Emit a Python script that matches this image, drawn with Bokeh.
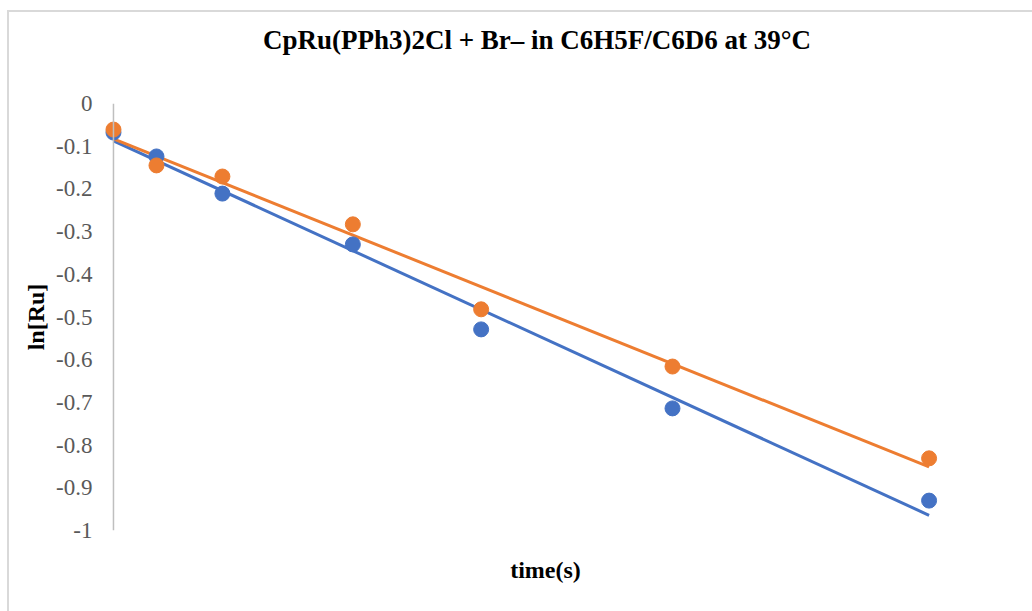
from bokeh.plotting import figure
from bokeh.models import Range1d, FixedTicker, Span, ColumnDataSource, Div
from bokeh.layouts import column
from bokeh.embed import file_html
from bokeh.resources import INLINE
import numpy as np

# ---- data ----
time_s = [0, 600, 1520, 3340, 5130, 7800, 11380]
ln_ru_blue = [-0.068, -0.124, -0.211, -0.330, -0.529, -0.714, -0.930]
ln_ru_orange = [-0.061, -0.145, -0.171, -0.283, -0.482, -0.616, -0.831]
y_ticks = [0, -0.1, -0.2, -0.3, -0.4, -0.5, -0.6, -0.7, -0.8, -0.9, -1]
y_tick_labels = ["0", "-0.1", "-0.2", "-0.3", "-0.4", "-0.5", "-0.6", "-0.7", "-0.8", "-0.9", "-1"]
title_text = "CpRu(PPh3)2Cl + Br\u2013 in C6H5F/C6D6 at 39\u00b0C"

BLUE = "#4472C4"
ORANGE = "#ED7D31"
GRAY_TXT = "#595959"
SERIF = "Liberation Serif"

title_div = Div(text=title_text, width=1023, height=46,
                styles={"font-family": SERIF, "font-size": "27px", "font-weight": "bold",
                        "color": "black", "text-align": "center", "line-height": "46px",
                        "text-indent": "23px", "background-color": "white"})

p = figure(width=1023, height=543, output_backend="svg", toolbar_location=None,
           x_range=Range1d(-181, 12237), y_range=Range1d(-1, 0),
           min_border_left=91, min_border_right=42, min_border_top=35, min_border_bottom=81)

p.outline_line_color = None
p.background_fill_color = "white"
p.border_fill_color = "white"
p.xgrid.visible = False
p.ygrid.visible = False

# x axis: label only
p.xaxis.ticker = FixedTicker(ticks=[])
p.xaxis.axis_label = "time(s)"
p.xaxis.axis_label_text_font = SERIF
p.xaxis.axis_label_text_font_size = "24px"
p.xaxis.axis_label_text_font_style = "bold"
p.xaxis.axis_label_text_color = "black"
p.xaxis.axis_line_color = None
p.xaxis.major_tick_line_color = None
p.xaxis.minor_tick_line_color = None
p.xaxis.axis_label_standoff = 26

# y axis
p.yaxis.ticker = FixedTicker(ticks=y_ticks)
p.yaxis.major_label_overrides = {t: l for t, l in zip(y_ticks, y_tick_labels)}
p.yaxis.axis_label = "ln[Ru]"
p.yaxis.axis_label_text_font = SERIF
p.yaxis.axis_label_text_font_size = "24px"
p.yaxis.axis_label_text_font_style = "bold"
p.yaxis.axis_label_text_color = "black"
p.yaxis.major_label_text_font = SERIF
p.yaxis.major_label_text_font_size = "23px"
p.yaxis.major_label_text_color = GRAY_TXT
p.yaxis.axis_line_color = None
p.yaxis.major_tick_line_color = None
p.yaxis.minor_tick_line_color = None
p.yaxis.major_label_standoff = 2
p.yaxis.axis_label_standoff = 4

# vertical axis line at time 0
p.add_layout(Span(location=0, dimension="height", line_color="#bfbfbf", line_width=1.5))

t = np.array(time_s, dtype=float)
for ys, col in ((ln_ru_blue, BLUE), (ln_ru_orange, ORANGE)):
    m, b = np.polyfit(t, np.array(ys), 1)
    tx = [t.min(), t.max()]
    p.line(tx, [m * v + b for v in tx], line_color=col, line_width=3)

for ys, col in ((ln_ru_blue, BLUE), (ln_ru_orange, ORANGE)):
    src = ColumnDataSource(dict(x=time_s, y=ys))
    p.scatter("x", "y", source=src, size=15, fill_color=col, line_color=col)

layout = column(title_div, p, spacing=0, margin=(10, 0, 0, 7),
                styles={"border-top": "2px solid #d9d9d9", "border-left": "2px solid #d9d9d9",
                        "background-color": "white"})

open("out.html", "w").write(file_html(layout, INLINE))
